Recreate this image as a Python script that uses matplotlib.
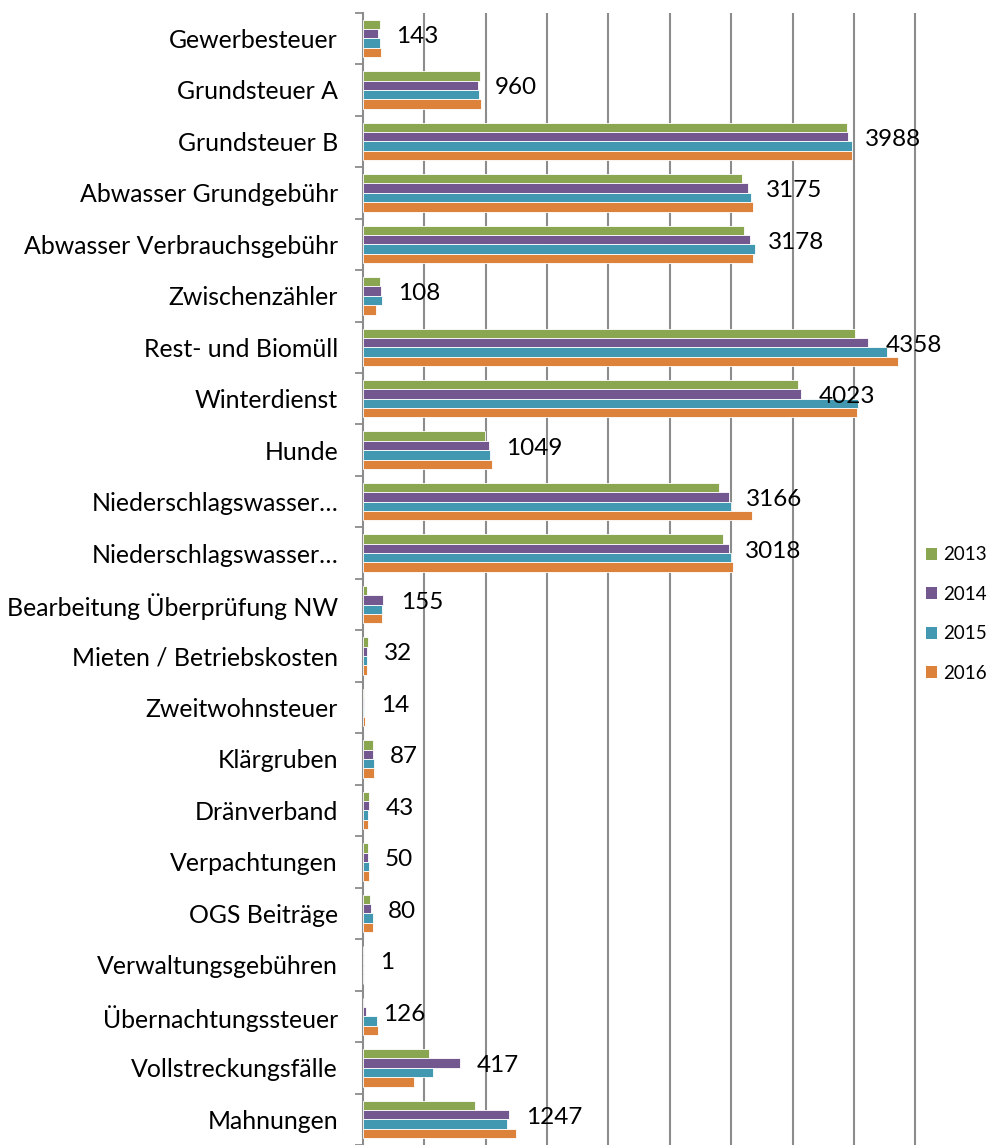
import numpy as np
import matplotlib
matplotlib.use("Agg")
from matplotlib import pyplot as plt
from matplotlib.patches import Patch

# Kategorien (von oben nach unten)
kategorien = ["Gewerbesteuer", "Grundsteuer A", "Grundsteuer B", "Abwasser Grundgebühr",
              "Abwasser Verbrauchsgebühr", "Zwischenzähler", "Rest- und Biomüll", "Winterdienst",
              "Hunde", "Niederschlagswasser…", "Niederschlagswasser…", "Bearbeitung Überprüfung NW",
              "Mieten / Betriebskosten", "Zweitwohnsteuer", "Klärgruben", "Dränverband",
              "Verpachtungen", "OGS Beiträge", "Verwaltungsgebühren", "Übernachtungssteuer",
              "Vollstreckungsfälle", "Mahnungen"]

jahre = ["2013", "2014", "2015", "2016"]

w2013 = [139, 951, 3946, 3092, 3105, 137, 4008, 3541, 997, 2899, 2937, 33,
         38, 8, 79, 46, 43, 60, 0, 0, 538, 913]
w2014 = [122, 937, 3951, 3139, 3151, 143, 4114, 3569, 1025, 2980, 2980, 166,
         33, 8, 82, 49, 43, 68, 0, 24, 793, 1187]
w2015 = [136, 946, 3984, 3164, 3190, 153, 4273, 4035, 1031, 2996, 2996, 158,
         33, 8, 90, 43, 49, 84, 0, 111, 568, 1173]
w2016 = [143, 960, 3988, 3175, 3178, 108, 4358, 4023, 1049, 3166, 3018, 155,
         32, 14, 87, 43, 50, 80, 1, 126, 417, 1247]

farben = ['#8BA650', '#72588F', '#4198B0', '#DD823B']

# Verschiebung der Datenbeschriftung (Pixel ab Balkenende 2016)
label_dx = [15, 14, 12, 13, 15, 22, -12, -38, 14, -6, 12, 19,
            17, 16, 16, 17, 16, 15, 17, 5, 63, 10]

plt.rcParams['font.family'] = ['Lato', 'DejaVu Sans']

fig = plt.figure(figsize=(9.88, 11.45), dpi=100)
xmax = 4520
ax = fig.add_axes([363 / 988, 0.0, (915.3 - 363) / 4500 * xmax / 988, 1 - 12.7 / 1145])

n = len(kategorien)
y = np.arange(n)
h = 0.182
serien = [w2013, w2014, w2015, w2016]
for i, (werte, cor) in enumerate(zip(serien, farben)):
    ax.barh(y + (i - 1.5) * h, werte, height=h, color=cor,
            edgecolor='white', linewidth=0.6, zorder=3)

for i in range(n):
    ax.annotate(str(w2016[i]), xy=(w2016[i], y[i]), xytext=(label_dx[i] * 0.72, 1.5),
                textcoords='offset points', ha='left', va='center',
                fontsize=17.5, color='black', zorder=5)

ax.set_xlim(0, xmax)
ax.set_ylim(n - 0.5, -0.5)
ax.set_xticks(np.arange(500, 4501, 500))
ax.xaxis.grid(True, color='#8C8C8C', linewidth=1.5, zorder=0)
ax.tick_params(axis='x', length=0, labelbottom=False)

ax.set_yticks(y)
ax.set_yticklabels(kategorien, fontsize=17.9)
ax.set_yticks(np.arange(n + 1) - 0.5, minor=True)
ax.tick_params(axis='y', which='major', length=0, pad=18)
ax.tick_params(axis='y', which='minor', length=6, width=1.3, color='#8C8C8C', direction='out')

for s in ['top', 'right', 'bottom']:
    ax.spines[s].set_visible(False)
ax.spines['left'].set_color('#8C8C8C')
ax.spines['left'].set_linewidth(1.5)
ax.set_axisbelow(True)

handles = [Patch(facecolor=c, edgecolor='none') for c in farben]
fig.legend(handles, jahre, loc='center left', bbox_to_anchor=(926 / 988, 1 - 614 / 1145),
           frameon=False, fontsize=13.5, handlelength=0.6, handleheight=0.6,
           handletextpad=0.3, labelspacing=1.2, borderpad=0, borderaxespad=0)

fig.savefig('out.png', dpi=100)
